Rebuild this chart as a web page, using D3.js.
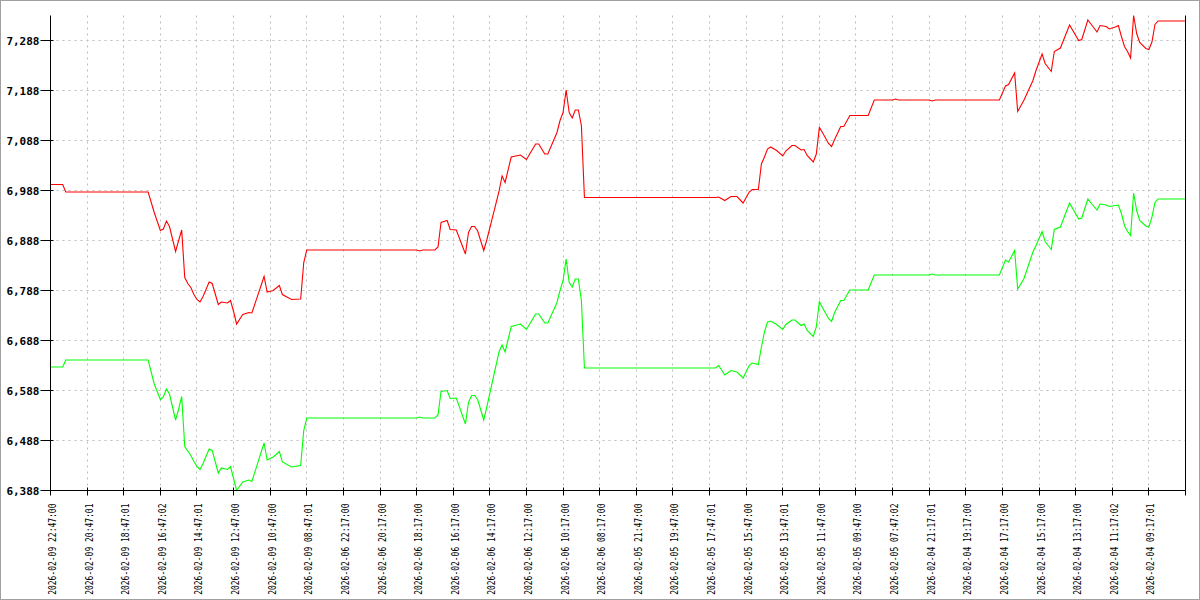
<!DOCTYPE html>
<html><head><meta charset="utf-8">
<script src="https://cdn.jsdelivr.net/npm/d3@7/dist/d3.min.js"></script>
<style>body{margin:0;background:#fff}svg{display:block}</style>
</head><body><svg id="c" width="1200" height="600"></svg>
<script>
// ---- data ----
const tickLabels = [
  "2026-02-09 22:47:00","2026-02-09 20:47:01","2026-02-09 18:47:01","2026-02-09 16:47:02",
  "2026-02-09 14:47:01","2026-02-09 12:47:00","2026-02-09 10:47:00","2026-02-09 08:47:01",
  "2026-02-06 22:17:00","2026-02-06 20:17:00","2026-02-06 18:17:00","2026-02-06 16:17:00",
  "2026-02-06 14:17:00","2026-02-06 12:17:00","2026-02-06 10:17:00","2026-02-06 08:17:00",
  "2026-02-05 21:47:00","2026-02-05 19:47:00","2026-02-05 17:47:01","2026-02-05 15:47:00",
  "2026-02-05 13:47:01","2026-02-05 11:47:00","2026-02-05 09:47:00","2026-02-05 07:47:02",
  "2026-02-04 21:17:01","2026-02-04 19:17:00","2026-02-04 17:17:00","2026-02-04 15:17:00",
  "2026-02-04 13:17:00","2026-02-04 11:17:02","2026-02-04 09:17:01"
];
const yTicks = [6.388, 6.488, 6.588, 6.688, 6.788, 6.888, 6.988, 7.088, 7.188, 7.288];

// sample positions (10-minute samples, 12 per labelled tick)
const sampleIdx = [0,4,5,32,34,36,37,38,39,41,42,43,44,45,46,47,48,49,50,52,53,55,56,58,59,60,61,63,65,66,
  70,71,73,75,76,79,82,83,84,120,121,122,126,127,128,130,131,133,136,137,138,139,140,142,143,
  147,148,149,151,154,156,159,160,162,163,166,167,168,169,170,171,172,173,174,175,
  218,219,221,223,225,227,229,230,232,233,234,235,236,238,240,241,243,244,246,247,248,250,251,252,253,
  255,256,257,259,260,262,268,270,276,277,278,288,289,290,311,313,314,316,317,319,322,323,325,326,328,
  329,331,334,337,338,340,341,343,344,346,347,349,350,351,352,353,354,355,356,357,359,360,361,362,363,372];

const redVals = [7.000,7.000,6.985,6.985,6.944,6.908,6.911,6.927,6.916,6.866,6.888,6.909,6.814,6.802,6.794,6.780,6.770,6.765,6.776,6.805,6.802,6.760,6.765,6.763,6.768,6.746,6.721,6.740,6.744,6.743,
  6.816,6.785,6.788,6.798,6.780,6.770,6.771,6.844,6.869,6.869,6.867,6.869,6.869,6.875,6.924,6.928,6.910,6.909,6.861,6.904,6.916,6.916,6.907,6.868,6.889,
  6.986,7.017,7.004,7.055,7.059,7.050,7.081,7.081,7.061,7.061,7.104,7.128,7.144,7.189,7.144,7.133,7.149,7.149,7.118,6.974,
  6.974,6.975,6.968,6.976,6.976,6.963,6.985,6.990,6.990,7.041,7.055,7.071,7.075,7.068,7.057,7.067,7.078,7.078,7.069,7.070,7.058,7.045,7.061,7.114,7.104,
  7.082,7.076,7.090,7.116,7.116,7.138,7.138,7.169,7.169,7.171,7.169,7.169,7.167,7.169,7.169,7.197,7.200,7.223,7.146,7.168,7.208,7.228,7.261,7.242,7.226,
  7.266,7.273,7.319,7.288,7.290,7.329,7.321,7.305,7.318,7.316,7.311,7.315,7.318,7.296,7.276,7.266,7.253,7.338,7.302,7.284,7.272,7.270,7.285,7.320,7.327,7.327];

const greenVals = [6.635,6.635,6.649,6.649,6.601,6.570,6.575,6.591,6.581,6.529,6.551,6.576,6.476,6.467,6.458,6.446,6.436,6.430,6.442,6.471,6.468,6.423,6.433,6.430,6.436,6.412,6.388,6.405,6.409,6.406,
  6.483,6.449,6.455,6.466,6.445,6.435,6.438,6.508,6.533,6.533,6.535,6.533,6.533,6.539,6.586,6.588,6.572,6.573,6.521,6.564,6.578,6.578,6.570,6.529,6.555,
  6.665,6.679,6.665,6.716,6.721,6.710,6.741,6.741,6.723,6.723,6.764,6.788,6.808,6.851,6.804,6.795,6.811,6.811,6.768,6.633,
  6.633,6.638,6.619,6.628,6.625,6.613,6.638,6.643,6.640,6.675,6.705,6.725,6.727,6.720,6.710,6.720,6.729,6.729,6.718,6.721,6.708,6.696,6.715,6.766,6.754,
  6.732,6.726,6.744,6.768,6.768,6.789,6.789,6.819,6.819,6.819,6.819,6.819,6.821,6.819,6.819,6.849,6.845,6.868,6.791,6.811,6.865,6.878,6.906,6.886,6.870,
  6.910,6.915,6.963,6.931,6.933,6.971,6.963,6.949,6.961,6.959,6.956,6.958,6.959,6.942,6.918,6.906,6.898,6.983,6.948,6.928,6.917,6.915,6.935,6.964,6.971,6.971];

const samplesPerTick = 12;
const totalSamples = 372;

// ---- layout ----
const W = 1200, H = 600, L = 50, R = 1185, T = 15, B = 490;
const svg = d3.select("#c");
svg.append("rect").attr("x",0.5).attr("y",0.5).attr("width",W-1).attr("height",H-1)
  .attr("fill","#fff").attr("stroke","#a0a0a0");

const g = svg.append("g").attr("transform","translate(0.5,0.5)");
const x = d3.scaleLinear().domain([0,totalSamples]).range([L,R]);
const y = d3.scaleLinear().domain([6.388, 7.338]).range([B,T]);
const loc = d3.formatLocale({decimal:",", thousands:".", grouping:[3], currency:["",""]});
const fmt = loc.format(".3f");

const tickPos = d3.range(0, tickLabels.length + 1).map(k => k*samplesPerTick);
const snap = v => Math.round(v);

// grid
g.append("g").selectAll("line").data(tickPos.slice(1, tickLabels.length))
  .join("line")
  .attr("x1", d=>snap(x(d))).attr("x2", d=>snap(x(d)))
  .attr("y1", T).attr("y2", B)
  .attr("stroke","#bdbdbd").attr("stroke-dasharray","2,4");
g.append("g").selectAll("line").data(yTicks.slice(1))
  .join("line")
  .attr("x1", L).attr("x2", R)
  .attr("y1", d=>snap(y(d))).attr("y2", d=>snap(y(d)))
  .attr("stroke","#bdbdbd").attr("stroke-dasharray","2,4");

// series
const line = (vals) => d3.line().x((d,i)=>x(sampleIdx[i])).y(d=>y(d))(vals);
g.append("path").attr("d", line(greenVals)).attr("fill","none").attr("stroke","#00ff00")
  .attr("stroke-width",1.1);
g.append("path").attr("d", line(redVals)).attr("fill","none").attr("stroke","#ff0000")
  .attr("stroke-width",1.1);

// axes lines
g.append("line").attr("x1",L).attr("x2",L).attr("y1",T).attr("y2",B).attr("stroke","#000");
g.append("line").attr("x1",R).attr("x2",R).attr("y1",T).attr("y2",B).attr("stroke","#000");
g.append("line").attr("x1",L).attr("x2",R).attr("y1",B).attr("y2",B).attr("stroke","#000");

// y ticks + labels
const yt = g.append("g").selectAll("g").data(yTicks).join("g")
  .attr("transform", d=>`translate(0,${snap(y(d))})`);
yt.append("line").attr("x1",L-10).attr("x2",L+3).attr("stroke","#000");
yt.append("text").attr("x", L-11).attr("y", 4)
  .attr("text-anchor","end")
  .style("font-family","'DejaVu Sans Mono', monospace").style("font-weight","bold")
  .style("font-size","11px").attr("fill","#000")
  .text(d=>fmt(d));

// x ticks + labels
const xt = g.append("g").selectAll("g").data(tickPos).join("g")
  .attr("transform", d=>`translate(${snap(x(d))},0)`);
xt.append("line").attr("y1",B-3).attr("y2",B+5).attr("stroke","#000");
xt.filter((d,i)=>i<tickLabels.length).append("text")
  .attr("transform", "translate(5,503) rotate(-90) scale(1,1.22)")
  .attr("text-anchor","end")
  .style("font-family","'DejaVu Sans Mono', monospace")
  .style("font-size","8px").attr("fill","#000")
  .text((d,i)=>tickLabels[i]);
</script></body></html>
